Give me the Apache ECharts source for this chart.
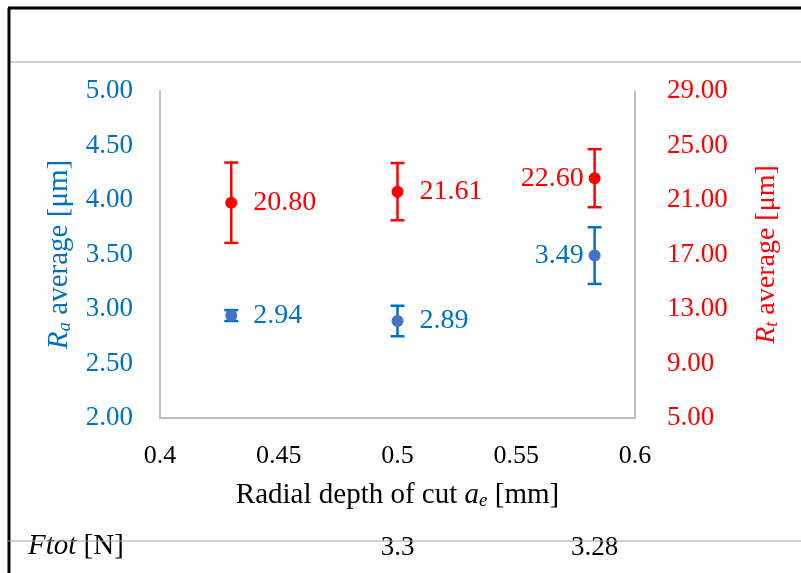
<!DOCTYPE html>
<html>
<head>
<meta charset="utf-8">
<title>Ra / Rt average</title>
<script src="https://cdn.jsdelivr.net/npm/echarts@6/dist/echarts.min.js"></script>
<style>
  html, body { margin: 0; padding: 0; background: #fff; }
  #chart { width: 801px; height: 573px; }
</style>
</head>
<body>
<div id="chart"></div>
<script>
// radial depth of cut a_e [mm]
var depths = [0.43, 0.5, 0.583];
// Ra average [um] and its spread
var raValues = [2.94, 2.89, 3.49];
var raErr = [0.05, 0.14, 0.26];
// Rt average [um] and its spread
var rtValues = [20.80, 21.61, 22.60];
var rtErr = [2.95, 2.1, 2.13];
// Ftot row under the chart
var ftotLabels = ['', '3.3', '3.28'];

var BLUE = '#0070C0';
var BLUE_DOT = '#4472C4';
var RED = '#FF0000';
var AXIS_GRAY = '#BFBFBF';
var FONT = '"Liberation Serif", "Times New Roman", serif';

function errData(vals, errs) {
  return depths.map(function (x, i) { return [x, vals[i] - errs[i], vals[i] + errs[i]]; });
}
function pts(vals) {
  return depths.map(function (x, i) { return [x, vals[i]]; });
}
function errRender(color) {
  return function (params, api) {
    var lo = api.coord([api.value(0), api.value(1)]);
    var hi = api.coord([api.value(0), api.value(2)]);
    var w = 7;
    var st = { stroke: color, lineWidth: 2.5 };
    return {
      type: 'group',
      children: [
        { type: 'line', shape: { x1: lo[0], y1: lo[1], x2: hi[0], y2: hi[1] }, style: st },
        { type: 'line', shape: { x1: lo[0] - w, y1: lo[1], x2: lo[0] + w, y2: lo[1] }, style: st },
        { type: 'line', shape: { x1: hi[0] - w, y1: hi[1], x2: hi[0] + w, y2: hi[1] }, style: st }
      ]
    };
  };
}
function leftForLast(p) {
  return p.dataIndex === 2 ? { dx: -p.labelRect.width - 33 } : {};
}
function nameStyle(color, size) {
  return {
    color: color, fontSize: size, fontFamily: FONT,
    rich: {
      i: { fontStyle: 'italic', fontSize: size, fontFamily: FONT, color: color },
      s: { fontStyle: 'italic', fontSize: Math.round(size * 0.65), fontFamily: FONT, color: color, padding: [11, 0, 0, 0] }
    }
  };
}

var chart = echarts.init(document.getElementById('chart'));
var opt = {
  animation: false,
  textStyle: { fontFamily: FONT },
  grid: { left: 160, right: 166, top: 91, bottom: 155 },
  xAxis: {
    type: 'value', min: 0.4, max: 0.6, interval: 0.05,
    axisLine: { show: true, lineStyle: { color: AXIS_GRAY, width: 2 } },
    axisTick: { show: false },
    splitLine: { show: false },
    axisLabel: { color: '#000', fontSize: 26, fontFamily: FONT, margin: 25 },
    name: 'Radial depth of cut {i|a}{s|e} [mm]',
    nameLocation: 'middle', nameGap: 62,
    nameTextStyle: nameStyle('#000', 29)
  },
  yAxis: [{
    type: 'value', min: 2, max: 5, interval: 0.5, position: 'left',
    axisLine: { show: true, lineStyle: { color: AXIS_GRAY, width: 2 } },
    axisTick: { show: false },
    splitLine: { show: false },
    axisLabel: { color: BLUE, fontSize: 27, fontFamily: FONT, margin: 27,
      formatter: function (v) { return v.toFixed(2); } },
    name: '{i|R}{s|a} average [\u03bcm]',
    nameLocation: 'middle', nameGap: 84, nameRotate: 90,
    nameTextStyle: nameStyle(BLUE, 29)
  }, {
    type: 'value', min: 5, max: 29, interval: 4, position: 'right',
    axisLine: { show: true, lineStyle: { color: AXIS_GRAY, width: 2 } },
    axisTick: { show: false },
    splitLine: { show: false },
    axisLabel: { color: RED, fontSize: 27, fontFamily: FONT, margin: 32,
      formatter: function (v) { return v.toFixed(2); } },
    name: '{i|R}{s|t} average [\u03bcm]',
    nameLocation: 'middle', nameGap: 117, nameRotate: 90,
    nameTextStyle: nameStyle(RED, 28)
  }],
  series: [{
    type: 'custom', yAxisIndex: 0, data: errData(raValues, raErr),
    renderItem: errRender(BLUE), encode: { x: 0, y: [1, 2] }, z: 2
  }, {
    type: 'custom', yAxisIndex: 1, data: errData(rtValues, rtErr),
    renderItem: errRender(RED), encode: { x: 0, y: [1, 2] }, z: 2
  }, {
    type: 'scatter', yAxisIndex: 0, data: pts(raValues), symbolSize: 12, z: 3,
    itemStyle: { color: BLUE_DOT, opacity: 1 },
    label: {
      show: true, color: BLUE, fontSize: 28, fontFamily: FONT,
      formatter: function (p) { return p.value[1].toFixed(2); },
      position: 'right', distance: 16
    },
    labelLayout: leftForLast
  }, {
    type: 'scatter', yAxisIndex: 1, data: pts(rtValues), symbolSize: 12, z: 3,
    itemStyle: { color: RED, opacity: 1 },
    label: {
      show: true, color: RED, fontSize: 28, fontFamily: FONT,
      formatter: function (p) { return p.value[1].toFixed(2); },
      position: 'right', distance: 16
    },
    labelLayout: leftForLast
  }]
};
chart.setOption(opt);

// frame lines and the Ftot row
var graphics = [
  { type: 'line', shape: { x1: 8, y1: 62, x2: 801, y2: 62 }, style: { stroke: '#BFBFBF', lineWidth: 1.5 }, z: 0 },
  { type: 'line', shape: { x1: 8, y1: 8, x2: 801, y2: 8 }, style: { stroke: '#000', lineWidth: 3 }, z: 0 },
  { type: 'line', shape: { x1: 9, y1: 8, x2: 9, y2: 573 }, style: { stroke: '#000', lineWidth: 3 }, z: 0 },
  { type: 'line', shape: { x1: 8, y1: 541, x2: 801, y2: 541 }, style: { stroke: '#A6A6A6', lineWidth: 1 }, z: 10 },
  { type: 'text', x: 28, y: 546, z: 5,
    style: { text: '{i|Ftot} [N]', fill: '#000', font: '29px ' + FONT, textVerticalAlign: 'middle',
      rich: { i: { fontStyle: 'italic', fontSize: 29, fontFamily: FONT, fill: '#000' } } } }
];
depths.forEach(function (x, i) {
  if (!ftotLabels[i]) return;
  var px = chart.convertToPixel({ xAxisIndex: 0 }, x);
  graphics.push({ type: 'text', x: px, y: 548, z: 5,
    style: { text: ftotLabels[i], fill: '#000', font: '27px ' + FONT, textAlign: 'center', textVerticalAlign: 'middle' } });
});
chart.setOption({ graphic: graphics });
</script>
</body>
</html>
